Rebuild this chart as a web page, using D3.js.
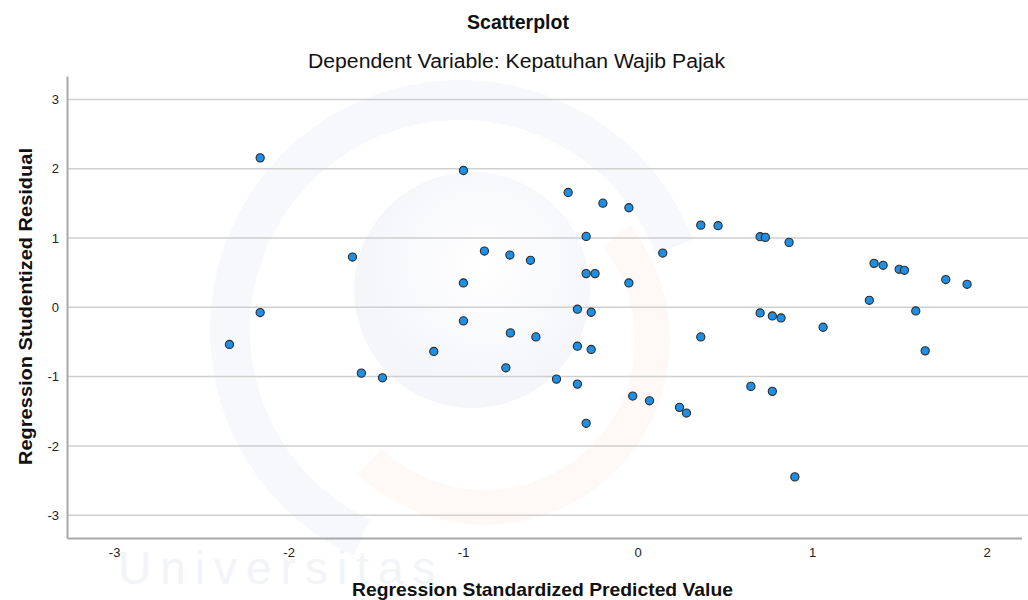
<!DOCTYPE html>
<html>
<head>
<meta charset="utf-8">
<script src="https://cdn.jsdelivr.net/npm/d3@7"></script>
<style>
    body { margin: 0; background: #fff; }
    svg { display: block; font-family: "Liberation Sans", Arial, sans-serif; }
</style>
</head>
<body>
<div id="chart"></div>
<script>
// values
const predicted = [
    -2.163, -2.163, -2.339, -0.998, -0.398, -0.199, -0.050, -0.295, -1.634, -0.878,
    -0.732, -0.614, 0.144, -0.295, -0.244, -0.998, -0.050, -0.345, -0.266, -0.998,
    -0.729, -0.583, -0.345, -0.266, -1.168, -1.583, -1.462, -0.755, -0.465, -0.345,
    -0.028, 0.068, 0.240, 0.280, -0.295, 0.362, 0.461, 0.702, 0.732, 0.868,
    1.355, 1.407, 1.499, 1.529, 1.766, 1.888, 1.328, 1.594, 0.702, 0.772,
    0.822, 1.063, 0.362, 1.648, 0.649, 0.772, 0.901
];
const residual = [
    2.158, -0.075, -0.536, 1.976, 1.659, 1.504, 1.438, 1.024, 0.726, 0.813,
    0.755, 0.679, 0.784, 0.487, 0.487, 0.352, 0.352, -0.027, -0.071, -0.196,
    -0.369, -0.427, -0.561, -0.608, -0.637, -0.950, -1.017, -0.873, -1.036, -1.108,
    -1.281, -1.349, -1.444, -1.526, -1.674, 1.187, 1.179, 1.020, 1.010, 0.938,
    0.635, 0.607, 0.549, 0.535, 0.401, 0.333, 0.102, -0.052, -0.081, -0.124,
    -0.153, -0.287, -0.427, -0.628, -1.141, -1.213, -2.448
];
const xTicks = [-3, -2, -1, 0, 1, 2];
const yTicks = [-3, -2, -1, 0, 1, 2, 3];

const width = 1028;
const height = 600;
const margin = { left: 67, right: 0, top: 76, bottom: 62 };

const svg = d3.select("#chart").append("svg")
    .attr("width", width)
    .attr("height", height);

const x = d3.scaleLinear()
    .domain([-3.27, 2.2])
    .range([margin.left, margin.left + (2.2 + 3.27) * 174.5]);

const y = d3.scaleLinear()
    .domain([-3.33, 3.34])
    .range([height - margin.bottom, margin.top]);

// very faint logo watermark behind the plot
const defs = svg.append("defs");
const grad = defs.append("radialGradient").attr("id", "wm")
    .attr("cx", "55%").attr("cy", "40%");
grad.append("stop").attr("offset", "0%").attr("stop-color", "#ffffff");
grad.append("stop").attr("offset", "100%").attr("stop-color", "#f5f6fa");

const wm = svg.append("g").attr("class", "watermark");
wm.append("path")
    .attr("d", d3.arc()({ innerRadius: 210, outerRadius: 250, startAngle: -2.7, endAngle: 1.2 }))
    .attr("transform", "translate(460,330)")
    .attr("fill", "#f6f8fb");
wm.append("path")
    .attr("d", d3.arc()({ innerRadius: 150, outerRadius: 185, startAngle: 0.9, endAngle: 3.9 }))
    .attr("transform", "translate(485,340)")
    .attr("fill", "#fef9f6");
wm.append("circle")
    .attr("cx", 472).attr("cy", 290).attr("r", 118)
    .attr("fill", "url(#wm)");
wm.append("text")
    .attr("x", 118).attr("y", 584)
    .attr("font-size", 46)
    .attr("letter-spacing", 9)
    .attr("fill", "#f2f4f8")
    .text("Universitas");

// gridlines
svg.append("g")
    .selectAll("line")
    .data(yTicks)
    .enter().append("line")
    .attr("x1", margin.left)
    .attr("x2", width)
    .attr("y1", d => y(d))
    .attr("y2", d => y(d))
    .attr("stroke", "#cfcfcf")
    .attr("stroke-width", 1.5);

// axes
const xAxis = svg.append("g")
    .attr("transform", `translate(0,${height - margin.bottom})`)
    .call(d3.axisBottom(x).tickValues(xTicks).tickSize(0).tickPadding(10).tickFormat(d => String(d)));
xAxis.select(".domain").attr("stroke", "#a8a8a8").attr("stroke-width", 2);
xAxis.selectAll("text").attr("font-size", 13).attr("fill", "#222")
    .attr("font-family", "Liberation Sans, Arial, sans-serif");

const yAxis = svg.append("g")
    .attr("transform", `translate(${margin.left},0)`)
    .call(d3.axisLeft(y).tickValues(yTicks).tickSize(0).tickPadding(8).tickFormat(d => String(d)));
yAxis.select(".domain").attr("stroke", "#a8a8a8").attr("stroke-width", 2);
yAxis.selectAll("text").attr("font-size", 13).attr("fill", "#222")
    .attr("font-family", "Liberation Sans, Arial, sans-serif");

// points
svg.append("g")
    .selectAll("circle")
    .data(predicted.map((p, i) => ({ p: p, r: residual[i] })))
    .enter().append("circle")
    .attr("cx", d => x(d.p))
    .attr("cy", d => y(d.r))
    .attr("r", 4.1)
    .attr("fill", "#1f8fe3")
    .attr("stroke", "#2b2b2b")
    .attr("stroke-width", 1.1);

// titles
svg.append("text")
    .attr("x", 518).attr("y", 29)
    .attr("text-anchor", "middle")
    .attr("font-size", 19.5).attr("font-weight", "bold")
    .attr("fill", "#111")
    .text("Scatterplot");

svg.append("text")
    .attr("x", 516.5).attr("y", 68)
    .attr("text-anchor", "middle")
    .attr("font-size", 20)
    .attr("textLength", 417).attr("lengthAdjust", "spacingAndGlyphs")
    .attr("fill", "#111")
    .text("Dependent Variable: Kepatuhan Wajib Pajak");

svg.append("text")
    .attr("x", 542.5).attr("y", 596)
    .attr("text-anchor", "middle")
    .attr("font-size", 18.5).attr("font-weight", "bold")
    .attr("textLength", 381).attr("lengthAdjust", "spacingAndGlyphs")
    .attr("fill", "#111")
    .text("Regression Standardized Predicted Value");

svg.append("text")
    .attr("transform", "translate(32,306.5) rotate(-90)")
    .attr("text-anchor", "middle")
    .attr("font-size", 18.5).attr("font-weight", "bold")
    .attr("textLength", 317).attr("lengthAdjust", "spacingAndGlyphs")
    .attr("fill", "#111")
    .text("Regression Studentized Residual");
</script>
</body>
</html>
